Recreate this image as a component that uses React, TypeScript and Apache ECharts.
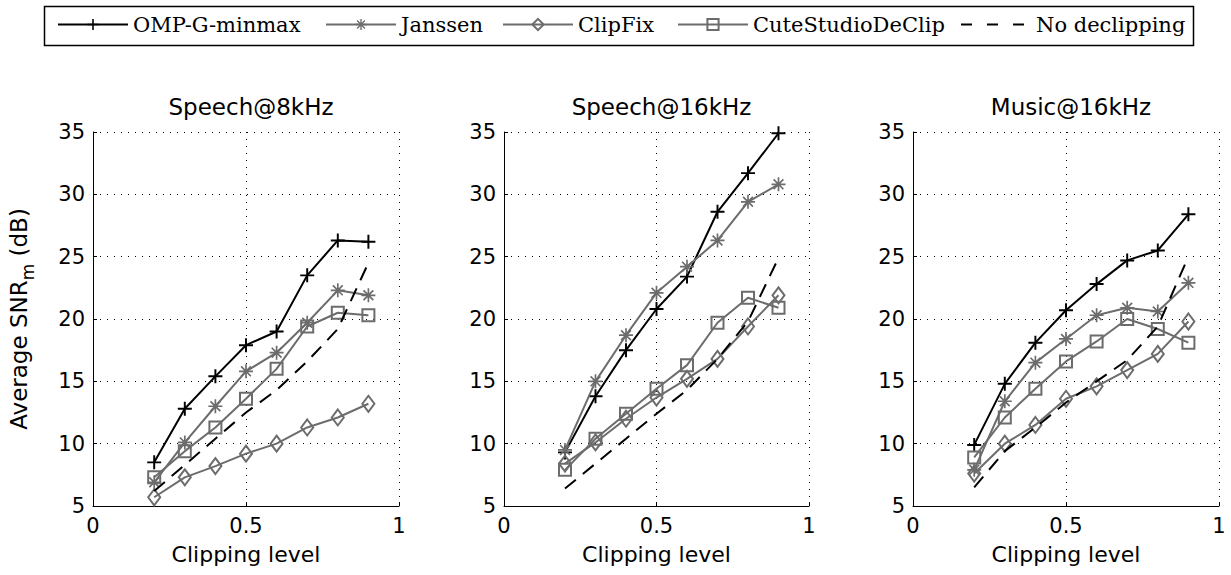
import React, { useEffect, useRef } from "react";
import * as echarts from "echarts";

// ---------- data ----------
const clippingLevels = [0.2, 0.3, 0.4, 0.5, 0.6, 0.7, 0.8, 0.9];
const panelTitles = ["Speech@8kHz", "Speech@16kHz", "Music@16kHz"];
const methodNames = ["OMP-G-minmax", "Janssen", "ClipFix", "CuteStudioDeClip", "No declipping"];
const xTickValues = [0, 0.5, 1];
const yTickValues = [5, 10, 15, 20, 25, 30, 35];

// Speech @ 8 kHz
const speech8Omp = [8.5, 12.8, 15.4, 17.9, 19.0, 23.5, 26.3, 26.2];
const speech8Janssen = [6.9, 10.1, 13.0, 15.8, 17.3, 19.7, 22.3, 21.9];
const speech8ClipFix = [5.7, 7.3, 8.2, 9.2, 10.0, 11.3, 12.1, 13.2];
const speech8Cute = [7.3, 9.4, 11.3, 13.6, 16.0, 19.4, 20.5, 20.3];
const speech8None = [6.2, 8.3, 10.4, 12.5, 14.3, 16.6, 19.2, 24.5];

// Speech @ 16 kHz
const speech16Omp = [9.3, 13.8, 17.5, 20.8, 23.4, 28.6, 31.7, 34.9];
const speech16Janssen = [9.5, 15.0, 18.7, 22.1, 24.2, 26.3, 29.4, 30.8];
const speech16ClipFix = [8.4, 10.1, 12.0, 13.7, 15.2, 16.8, 19.4, 21.9];
const speech16Cute = [7.9, 10.4, 12.4, 14.4, 16.3, 19.7, 21.7, 20.9];
const speech16None = [6.4, 8.4, 10.4, 12.4, 14.3, 16.8, 19.8, 24.9];

// Music @ 16 kHz
const music16Omp = [9.9, 14.8, 18.1, 20.7, 22.8, 24.7, 25.5, 28.4];
const music16Janssen = [7.9, 13.4, 16.5, 18.4, 20.3, 20.9, 20.6, 22.9];
const music16ClipFix = [7.6, 10.0, 11.5, 13.6, 14.6, 15.9, 17.2, 19.8];
const music16Cute = [8.9, 12.1, 14.4, 16.6, 18.2, 20.0, 19.2, 18.1];
const music16None = [6.5, 9.4, 11.3, 13.3, 15.0, 16.7, 19.4, 25.0];

const panelData = [
  [speech8Omp, speech8Janssen, speech8ClipFix, speech8Cute, speech8None],
  [speech16Omp, speech16Janssen, speech16ClipFix, speech16Cute, speech16None],
  [music16Omp, music16Janssen, music16ClipFix, music16Cute, music16None],
];

// ---------- styles / layout ----------
const GRAY = "#6c6c6c";
const BLACK = "#000000";
const SANS = "DejaVu Sans";
const SERIF = "DejaVu Serif";

const PLUS = "path://M8.6,0H11.4V8.6H20V11.4H11.4V20H8.6V11.4H0V8.6H8.6Z";
const ASTER =
  "path://M8.8,0H11.2V20H8.8Z M0,8.8H20V11.2H0Z M3.85,2.15L17.85,16.15L16.15,17.85L2.15,3.85Z M16.15,2.15L17.85,3.85L3.85,17.85L2.15,16.15Z";

const gridLayout = [
  { left: 93, top: 132, width: 306, height: 374 },
  { left: 504, top: 132, width: 305, height: 374 },
  { left: 913, top: 132, width: 306, height: 374 },
];

const legendLefts = [57, 325, 502, 677, 960];

const methodStyles: any[] = [
  {
    symbol: PLUS,
    symbolSize: 14,
    lineStyle: { color: BLACK, width: 2 },
    itemStyle: { color: BLACK },
  },
  {
    symbol: ASTER,
    symbolSize: 14,
    lineStyle: { color: GRAY, width: 2 },
    itemStyle: { color: GRAY },
  },
  {
    symbol: "diamond",
    symbolSize: [12, 16],
    lineStyle: { color: GRAY, width: 2 },
    itemStyle: { color: "rgba(255,255,255,0)", borderColor: GRAY, borderWidth: 2 },
  },
  {
    symbol: "rect",
    symbolSize: 12,
    lineStyle: { color: GRAY, width: 2 },
    itemStyle: { color: "rgba(255,255,255,0)", borderColor: GRAY, borderWidth: 2 },
  },
  {
    symbol: "none",
    symbolSize: 0,
    lineStyle: { color: BLACK, width: 2, type: [14, 9] },
    itemStyle: { color: "rgba(0,0,0,0)" },
  },
];

function buildOption() {
  const grid = gridLayout.map((g) => ({ ...g, containLabel: false }));
  const title = panelTitles.map((t, i) => ({
    text: t,
    left: gridLayout[i].left + gridLayout[i].width / 2,
    top: 90,
    textAlign: "center",
    textStyle: { fontFamily: SANS, fontSize: 23, fontWeight: "normal", color: BLACK },
  }));
  const dotted = { color: BLACK, width: 1, type: [1, 6] };
  const xAxis = panelTitles.map((_, i) => ({
    type: "value",
    gridIndex: i,
    min: xTickValues[0],
    max: xTickValues[xTickValues.length - 1],
    interval: xTickValues[1] - xTickValues[0],
    name: "Clipping level",
    nameLocation: "middle",
    nameGap: 37,
    nameTextStyle: { fontFamily: SANS, fontSize: 22, color: BLACK },
    axisLine: { show: true, lineStyle: { color: BLACK, width: 1 } },
    axisTick: { show: true, inside: true, length: 4, lineStyle: { color: BLACK } },
    axisLabel: { fontFamily: SANS, fontSize: 21, color: BLACK, margin: 9 },
    splitLine: { show: true, lineStyle: dotted },
  }));
  const yAxis = panelTitles.map((_, i) => ({
    type: "value",
    gridIndex: i,
    min: yTickValues[0],
    max: yTickValues[yTickValues.length - 1],
    interval: yTickValues[1] - yTickValues[0],
    name: i === 0 ? "{main|Average SNR}{sub|m}{main| (dB)}" : "",
    nameLocation: "middle",
    nameGap: 62,
    nameTextStyle: {
      fontFamily: SANS,
      fontSize: 23,
      color: BLACK,
      rich: {
        main: { fontFamily: SANS, fontSize: 23, lineHeight: 24, color: BLACK, verticalAlign: "top" },
        sub: {
          fontFamily: SANS,
          fontSize: 17,
          lineHeight: 18,
          padding: [12, 0, 0, 0],
          color: BLACK,
          verticalAlign: "top",
        },
      },
    },
    axisLine: { show: true, lineStyle: { color: BLACK, width: 1 } },
    axisTick: { show: true, inside: true, length: 4, lineStyle: { color: BLACK } },
    axisLabel: { fontFamily: SANS, fontSize: 21, color: BLACK, margin: 8 },
    splitLine: { show: true, lineStyle: dotted },
  }));
  const series: any[] = [];
  panelData.forEach((panel, pi) => {
    panel.forEach((values, mi) => {
      const st = methodStyles[mi];
      series.push({
        type: "line",
        name: methodNames[mi],
        xAxisIndex: pi,
        yAxisIndex: pi,
        data: clippingLevels.map((x, k) => [x, values[k]]),
        symbol: st.symbol,
        symbolSize: st.symbolSize,
        showSymbol: st.symbol !== "none",
        lineStyle: st.lineStyle,
        itemStyle: st.itemStyle,
        emphasis: { disabled: true },
        z: 2 + mi,
      });
    });
  });
  const legend = methodNames.map((name, i) => ({
    data: [name],
    left: legendLefts[i],
    top: 14,
    padding: 0,
    itemWidth: 70,
    itemHeight: 14,
    selectedMode: false,
    textStyle: { fontFamily: SERIF, fontSize: 21, color: BLACK },
    ...(i === 4 ? { lineStyle: { type: [11, 15] } } : {}),
  }));
  return {
    animation: false,
    backgroundColor: "#ffffff",
    title,
    grid,
    xAxis,
    yAxis,
    series,
    legend,
    graphic: [
      {
        type: "rect",
        left: 42,
        top: 4,
        shape: { x: 0, y: 0, width: 1149, height: 39 },
        style: { fill: "none", stroke: BLACK, lineWidth: 1.5 },
        silent: true,
      },
    ],
  };
}

export default function App() {
  const ref = useRef<HTMLDivElement>(null);
  useEffect(() => {
    if (!ref.current) return;
    const chart = echarts.init(ref.current, undefined, { renderer: "svg" });
    chart.setOption(buildOption() as any);
    return () => chart.dispose();
  }, []);
  return (
    <div
      ref={ref}
      style={{ position: "fixed", left: 0, top: 0, width: 1231, height: 575, background: "#fff" }}
    />
  );
}
